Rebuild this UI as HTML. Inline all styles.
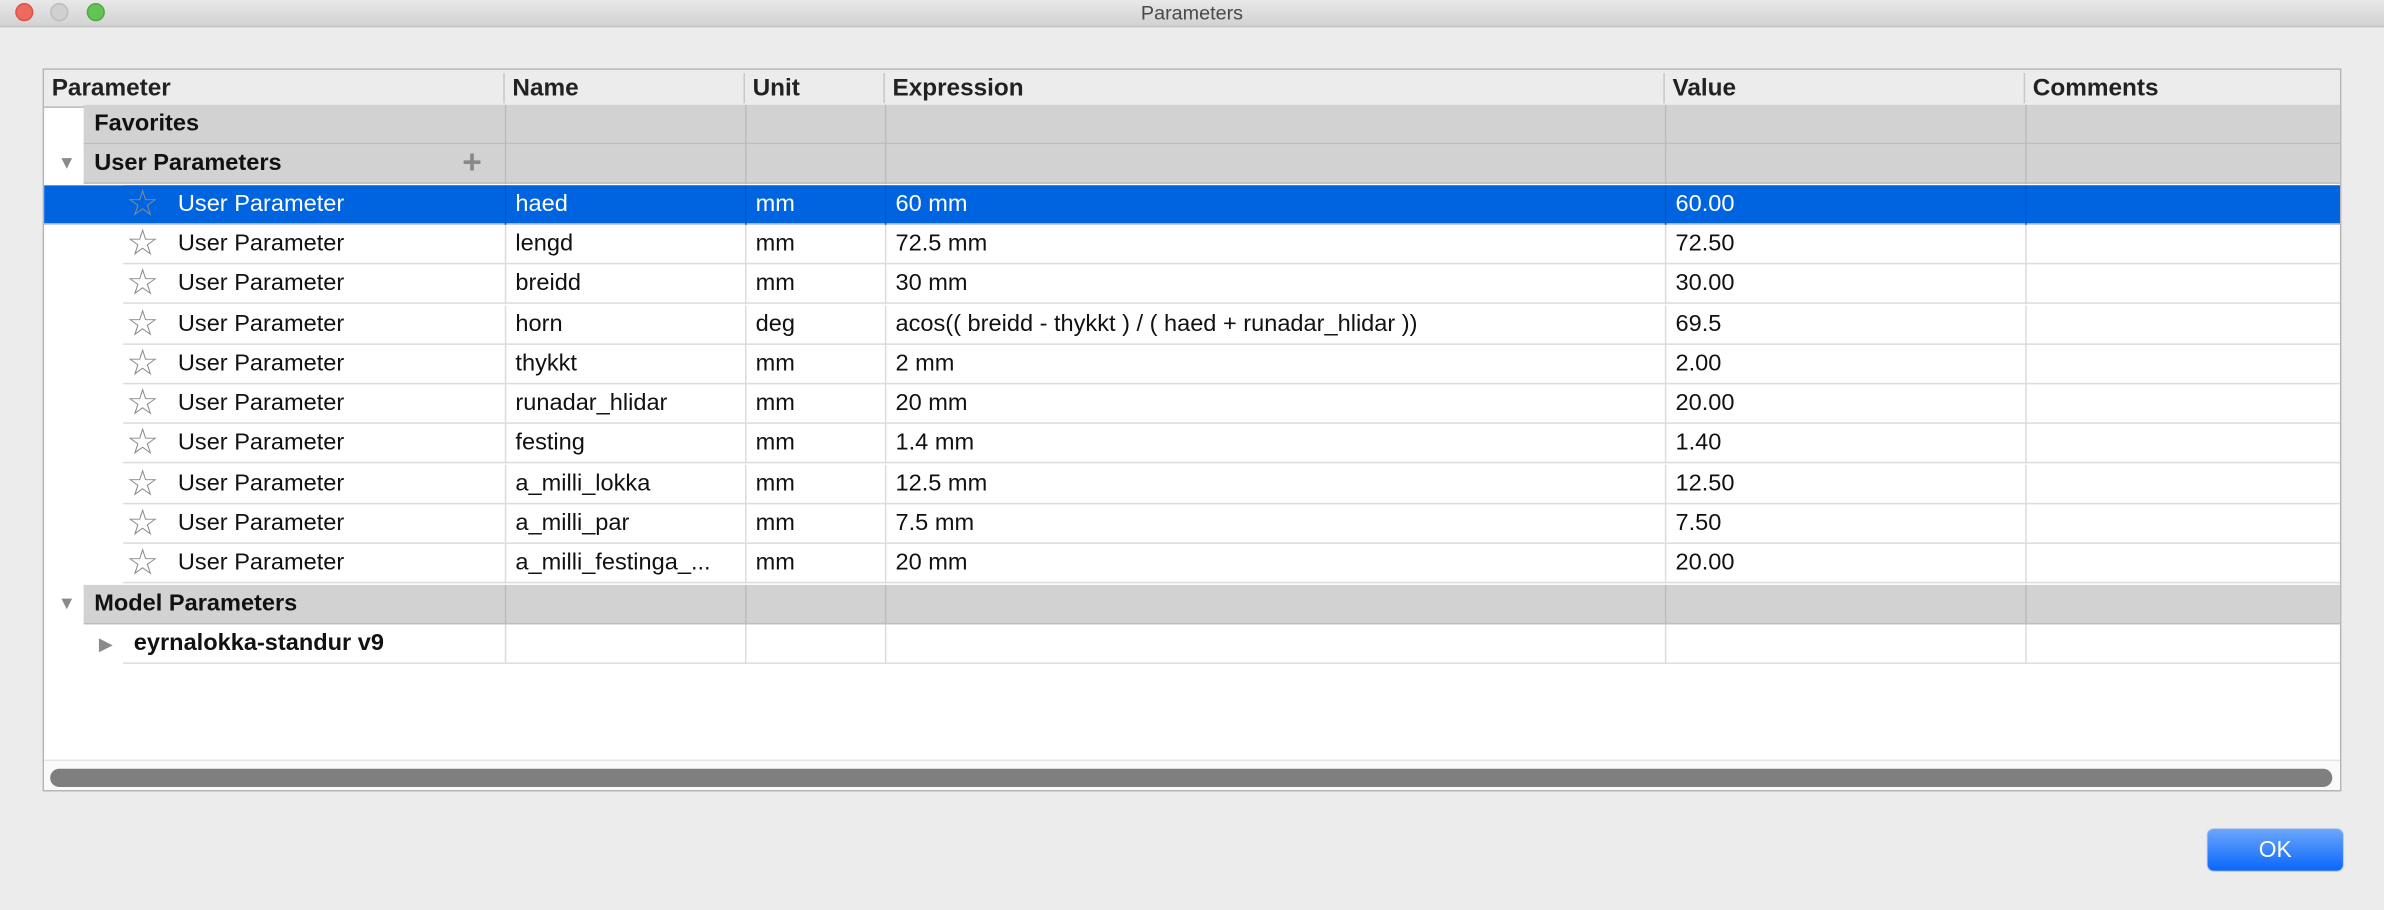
<!DOCTYPE html>
<html><head><meta charset="utf-8"><style>
html,body{margin:0;padding:0;width:2384px;height:910px;overflow:hidden;background:#ececec}
#s{position:absolute;left:0;top:0;width:1568px;height:599px;transform:scale(1.52041,1.51920);transform-origin:0 0;font-family:"Liberation Sans",sans-serif;background:#ececec}
.tb{position:absolute;left:0;top:0;width:1568px;height:17px;background:linear-gradient(#e9e8e9,#d3d2d3);border-bottom:1px solid #c4c4c4;text-align:center;font-size:13px;line-height:17px;color:#4a4a4a}
.dot{position:absolute;top:2px;width:12px;height:12px;border-radius:50%}
.tbl{position:absolute;left:28px;top:45px;width:1512px;height:476px;background:#fff;border:1px solid #b5b5b5;box-sizing:border-box;overflow:hidden}
.hd{position:absolute;left:0;top:0;width:1512px;height:24px;background:#ececec;border-bottom:1px solid #b8b8b8}
.hc{position:absolute;top:2px;height:20px;font-weight:bold;font-size:16px;line-height:21px;color:#222;border-left:1px solid #c8c8c8;padding-left:5px}
.row{position:absolute;height:26px;border-bottom:1px solid #dcdcdc;box-sizing:border-box}
.c{position:absolute;top:0;height:26px;line-height:26px;font-size:15.5px;color:#111;border-left:1px solid #dcdcdc;padding-left:6px;white-space:nowrap;box-sizing:border-box}
.g{background:#d2d2d2;border-bottom:1px solid #bdbdbd}
.g .c{border-left-color:#bcbcbc;font-weight:bold}
.sel{background:#0064e1}
.sel .c{color:#fff;border-left-color:#0058c8}
.star{position:absolute;left:55px;top:2px;font-size:24px;line-height:22px;color:#8a8a8a}
.sb{position:absolute;left:0;top:454px;width:1512px;height:21px;background:#fafafa;border-top:1px solid #e4e4e4}
.th{position:absolute;left:4px;top:5px;width:1501px;height:12px;border-radius:6px;background:#7f7f7f}
.ok{position:absolute;left:1452px;top:546px;width:89px;height:27px;border-radius:4px;background:linear-gradient(#6aa6fb,#0a66fb);color:#fff;text-align:center;line-height:27px;font-size:15px;box-shadow:0 0 1px #3b7ad6}
.tri{position:absolute;color:#8a8a8a;font-size:12px}
</style></head><body><div id="s">
<div class="tb">Parameters
<div class="dot" style="left:10px;background:#ee6a5f;border:1px solid #d5554b;box-sizing:border-box"></div>
<div class="dot" style="left:33px;background:#d0d0d0;border:1px solid #bdbdbd;box-sizing:border-box"></div>
<div class="dot" style="left:57px;background:#61c454;border:1px solid #50a843;box-sizing:border-box"></div>
</div>
<div class="tbl">
<div class="hd">
<div class="hc" style="left:0;border-left:none">Parameter</div>
<div class="hc" style="left:302px">Name</div>
<div class="hc" style="left:460px">Unit</div>
<div class="hc" style="left:552px">Expression</div>
<div class="hc" style="left:1065px">Value</div>
<div class="hc" style="left:1302px">Comments</div>
</div>
<div id="rows"></div>
<div class="sb"><div class="th"></div></div>
</div>
<div class="ok">OK</div>
</div>
<script>
(function(){
var R=document.getElementById('rows');
var cols=[0,303,461,553,1066,1303,1512];
function row(ty,left,cls,cells,opts){
 var d=document.createElement('div');d.className='row '+cls;d.style.top=ty+'px';d.style.left=left+'px';d.style.width=(1512-left)+'px';
 var h='';
 for(var i=0;i<6;i++){var x=cols[i]-left;if(x<0)x=0;var w=cols[i+1]-left-x;
  var pad=(i==0&&opts.pad)?opts.pad:6;
  h+='<div class="c" style="left:'+x+'px;width:'+w+'px;padding-left:'+pad+'px;'+(i==0?'border-left:none':'')+'">'+(cells[i]||'')+'</div>';}
 if(opts.star)h+='<div class="star" style="left:2px">☆</div>';
 d.innerHTML=h;R.appendChild(d);
}
var rh=26.3,y0=23;
function Y(i){return Math.round(y0+i*rh);}
row(Y(0),26,'g',['Favorites'],{pad:7});
row(Y(1),26,'g',['User Parameters'],{pad:7});
var tr=document.createElement('div');tr.className='tri';tr.style.left='9px';tr.style.top=(Y(1)+5)+'px';tr.textContent='▼';R.appendChild(tr);
var pl=document.createElement('div');pl.style.cssText='position:absolute;left:275px;top:'+(Y(1)-1)+'px;font-size:22px;color:#888;font-weight:bold';pl.textContent='+';R.appendChild(pl);
var P=[['haed','mm','60 mm','60.00'],['lengd','mm','72.5 mm','72.50'],['breidd','mm','30 mm','30.00'],['horn','deg','acos(( breidd - thykkt ) / ( haed + runadar_hlidar ))','69.5'],['thykkt','mm','2 mm','2.00'],['runadar_hlidar','mm','20 mm','20.00'],['festing','mm','1.4 mm','1.40'],['a_milli_lokka','mm','12.5 mm','12.50'],['a_milli_par','mm','7.5 mm','7.50'],['a_milli_festinga_...','mm','20 mm','20.00']];
for(var i=0;i<P.length;i++){
 var ty=Y(2+i);
 if(i==0){var b=document.createElement('div');b.className='row sel';b.style.top=ty+'px';b.style.left='0px';b.style.width='1512px';R.appendChild(b);}
 row(ty,52,i==0?'sel':'',['User Parameter',P[i][0],P[i][1],P[i][2],P[i][3]],{pad:36,star:1});
}
row(Y(12),26,'g',['Model Parameters'],{pad:7});
var t2=document.createElement('div');t2.className='tri';t2.style.left='9px';t2.style.top=(Y(12)+5)+'px';t2.textContent='▼';R.appendChild(t2);
row(Y(13),52,'',['<b>eyrnalokka-standur v9</b>'],{pad:7});
var t3=document.createElement('div');t3.className='tri';t3.style.left='36px';t3.style.top=(Y(13)+6)+'px';t3.textContent='▶';R.appendChild(t3);
})();
</script>
</body></html>
